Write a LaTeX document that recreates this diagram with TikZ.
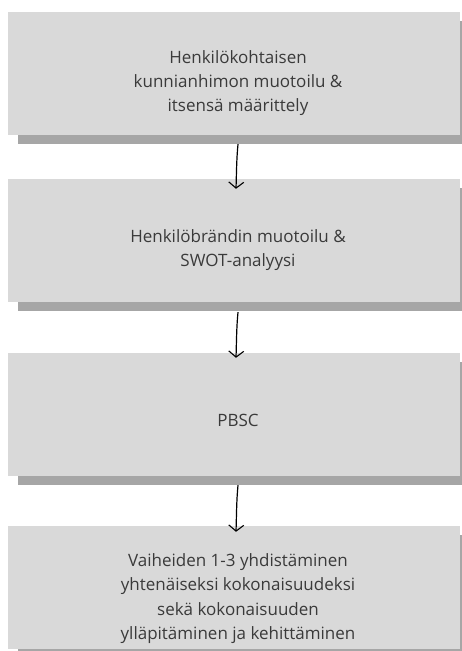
\documentclass[tikz,border=0pt]{standalone}
\usepackage{fontspec}
\setmainfont{Open Sans}
\usetikzlibrary{shadows,arrows.meta}
\definecolor{boxgray}{HTML}{D9D9D9}
\definecolor{shadowgray}{HTML}{A6A6A6}
\definecolor{txt}{HTML}{3A3A3A}
\tikzset{
  stepbox/.style={rectangle, fill=boxgray, minimum width=452pt, minimum height=123pt, inner sep=0pt,
    general shadow={fill=shadowgray, shadow xshift=10pt, shadow yshift=-9pt}},
  steptext/.style={align=center, text=txt, font=\fontsize{17pt}{24.3pt}\selectfont, inner sep=0pt},
  arr/.style={line width=1.2pt, black, -{Straight Barb[length=6pt,width=15pt,line width=1.1pt]}}
}
\begin{document}
\begin{tikzpicture}[x=1pt,y=-1pt]
\useasboundingbox (0,0) rectangle (461,651);
\node[stepbox] (b1) at (234,73.5) {};
\node[stepbox] (b2) at (234,240.5) {};
\node[stepbox] (b3) at (234,414.5) {};
\node[stepbox] (b4) at (234,587.5) {};
\node[steptext] (t1) at ([xshift=4pt,yshift=-9.5pt]b1.center) {Henkilökohtaisen\\kunnianhimon muotoilu \&\\itsensä määrittely};
\node[steptext] (t2) at ([xshift=4pt,yshift=-9.5pt]b2.center) {Henkilöbrändin muotoilu \&\\SWOT-analyysi};
\node[steptext] (t3) at ([xshift=4pt,yshift=-6pt]b3.center) {PBSC};
\node[steptext] (t4) at ([xshift=4pt,yshift=-11pt]b4.center) {Vaiheiden 1-3 yhdistäminen\\yhtenäiseksi kokonaisuudeksi\\sekä kokonaisuuden\\ylläpitäminen ja kehittäminen};
\coordinate (s1) at ([xshift=4pt,yshift=-9pt]b1.south);
\coordinate (e1) at ([xshift=2pt,yshift=-10pt]b2.north);
\coordinate (s2) at ([xshift=4pt,yshift=-10pt]b2.south);
\coordinate (e2) at ([xshift=2pt,yshift=-5pt]b3.north);
\coordinate (s3) at ([xshift=4pt,yshift=-9pt]b3.south);
\coordinate (e3) at ([xshift=2pt,yshift=-6pt]b4.north);
\draw[arr] (s1) .. controls ([xshift=-1.5pt,yshift=-15pt]s1) and ([xshift=0.5pt,yshift=15pt]e1) .. (e1);
\draw[arr] (s2) .. controls ([xshift=-1.5pt,yshift=-15pt]s2) and ([xshift=0.5pt,yshift=15pt]e2) .. (e2);
\draw[arr] (s3) .. controls ([xshift=-1.5pt,yshift=-15pt]s3) and ([xshift=0.5pt,yshift=15pt]e3) .. (e3);
\end{tikzpicture}
\end{document}
